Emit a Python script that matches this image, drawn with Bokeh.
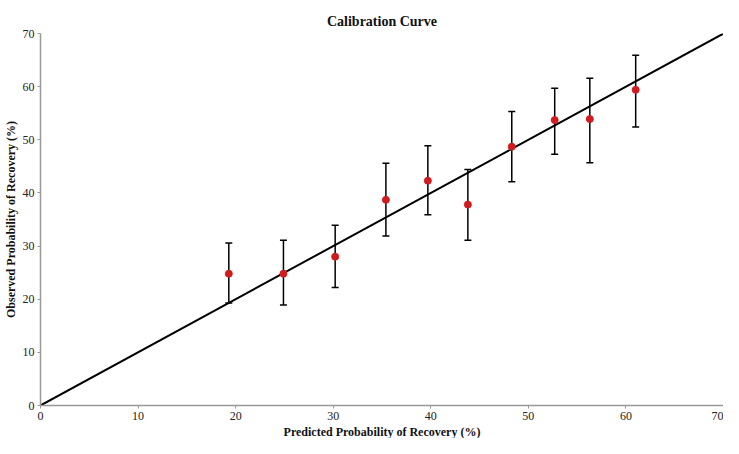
from bokeh.plotting import figure
from bokeh.models import ColumnDataSource, Whisker, TeeHead, Range1d, FixedTicker, Title
from bokeh.embed import file_html
from bokeh.resources import INLINE

# Data
predicted = [19.3, 24.9, 30.2, 35.4, 39.7, 43.8, 48.3, 52.7, 56.3, 61.0]
observed = [24.8, 24.8, 28.0, 38.7, 42.3, 37.8, 48.7, 53.7, 53.9, 59.4]
upper = [30.6, 31.1, 33.9, 45.6, 48.9, 44.4, 55.3, 59.7, 61.6, 65.9]
lower = [19.3, 18.9, 22.2, 31.9, 35.9, 31.1, 42.1, 47.3, 45.7, 52.4]
diag = [0, 70]
ticks = [0, 10, 20, 30, 40, 50, 60, 70]

FONT = "Liberation Serif"

p = figure(width=723, height=438, output_backend="svg", toolbar_location=None,
           x_range=Range1d(0, 70), y_range=Range1d(0, 70),
           min_border_left=34, min_border_right=0, min_border_top=33, min_border_bottom=0,
           title="Calibration Curve")
p.title.text_font = FONT
p.title.text_font_size = "14px"
p.title.text_font_style = "bold"
p.title.align = "center"
p.title.vertical_align = "top"
p.title.text_color = "#111111"
p.title.standoff = 0
p.title.offset = 0
p.title.padding = 3

p.outline_line_color = None
p.grid.visible = False

for ax in (p.xaxis[0], p.yaxis[0]):
    ax.ticker = FixedTicker(ticks=ticks)
    ax.axis_line_color = "#999999"
    ax.axis_line_width = 1.5
    ax.major_tick_line_color = "#999999"
    ax.major_tick_out = 3
    ax.major_tick_in = 0
    ax.minor_tick_line_color = None
    ax.major_label_text_font = FONT
    ax.major_label_text_font_size = "12px"
    ax.major_label_text_color = "#222222"
    ax.major_label_standoff = 3
    ax.axis_label_text_font = FONT
    ax.axis_label_text_font_size = "12px"
    ax.axis_label_text_font_style = "bold"
    ax.axis_label_text_color = "#111111"
    ax.axis_label_standoff = 2

p.yaxis.axis_label = "Observed Probability of Recovery (%)"
xlab = Title(text="Predicted Probability of Recovery (%)", align="center",
             text_font=FONT, text_font_size="12px", text_font_style="bold",
             text_color="#111111", standoff=0, offset=0)
p.add_layout(xlab, "below")

src = ColumnDataSource(dict(x=predicted, y=observed, upper=upper, lower=lower))

p.line(x=diag, y=diag, line_color="black", line_width=2)

w = Whisker(source=src, base="x", upper="upper", lower="lower",
            line_color="black", line_width=1.5,
            upper_head=TeeHead(size=7, line_color="black", line_width=1.5),
            lower_head=TeeHead(size=7, line_color="black", line_width=1.5))
p.add_layout(w)

p.scatter(x="x", y="y", source=src, size=7, fill_color="#d01c1f", line_color="#d01c1f")

open("out.html", "w").write(file_html(p, INLINE))
